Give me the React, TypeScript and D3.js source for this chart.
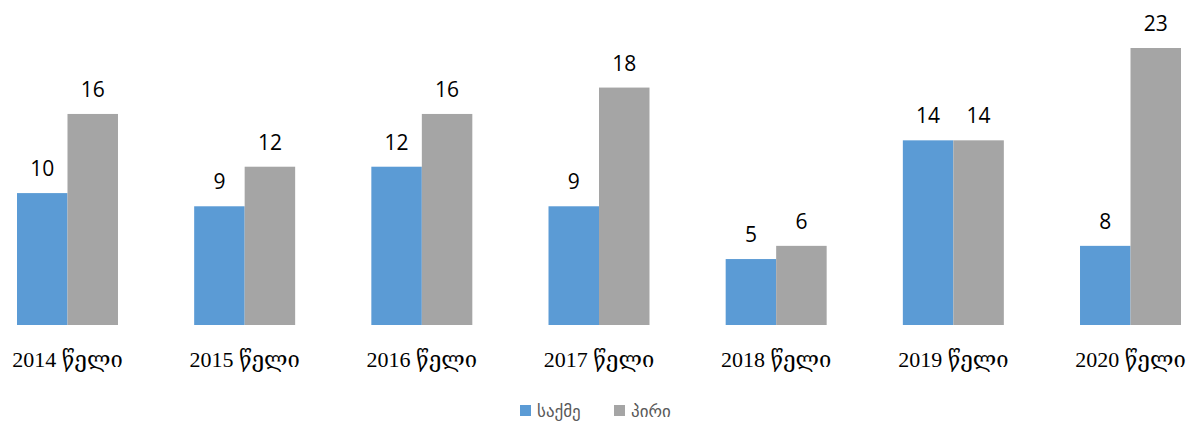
import * as d3 from 'd3'
import React, { useRef, useEffect } from 'react'

const years = ['2014', '2015', '2016', '2017', '2018', '2019', '2020']
const yearSuffix = 'წელი'
// bar heights as drawn in the picture (the 2020 bars are drawn shorter than their labels)
const cases = [10, 9, 12, 9, 5, 14, 6]
const persons = [16, 12, 16, 18, 6, 14, 21]
// labels as printed above the bars
const caseLabels = ['10', '9', '12', '9', '5', '14', '8']
const personLabels = ['16', '12', '16', '18', '6', '14', '23']
const seriesNames = ['საქმე', 'პირი']
const seriesColors = ['#5B9BD5', '#A5A5A5']

const App = () => {
  const ref = useRef<SVGSVGElement | null>(null)

  useEffect(() => {
    const svg = d3.select(ref.current)
    svg.selectAll('*').remove()

    const baseline = 325

    const y = d3.scaleLinear().domain([0, 21]).range([baseline, 48])
    const x0 = d3.scaleBand().domain(years).range([17, 1181]).paddingInner(0.43).paddingOuter(0)
    const x1 = d3.scaleBand().domain(['0', '1']).range([0, x0.bandwidth()])

    const series = [cases, persons]
    const labels = [caseLabels, personLabels]

    series.forEach((vals, s) => {
      const g = svg.append('g')
      g.selectAll('rect')
        .data(vals)
        .enter().append('rect')
        .attr('x', (d, i) => x0(years[i])! + x1(String(s))!)
        .attr('y', d => y(d))
        .attr('width', x1.bandwidth())
        .attr('height', d => baseline - y(d))
        .attr('fill', seriesColors[s])

      g.selectAll('text')
        .data(vals)
        .enter().append('text')
        .attr('x', (d, i) => x0(years[i])! + x1(String(s))! + x1.bandwidth() / 2)
        .attr('y', d => y(d) - 17)
        .attr('text-anchor', 'middle')
        .style('font-family', '"Open Sans", sans-serif')
        .style('font-size', '21px')
        .attr('fill', '#000')
        .text((d, i) => labels[s][i])
    })

    // category labels
    svg.append('g').selectAll('text')
      .data(years)
      .enter().append('text')
      .attr('x', d => x0(d)! + x0.bandwidth() / 2)
      .attr('y', 367)
      .attr('text-anchor', 'middle')
      .style('font-family', '"Liberation Serif", "DejaVu Serif", serif')
      .style('font-size', '22px')
      .attr('fill', '#000')
      .text(d => `${d} ${yearSuffix}`)

    // legend
    const legendX = [520, 614]
    seriesNames.forEach((name, i) => {
      svg.append('rect')
        .attr('x', legendX[i])
        .attr('y', 405)
        .attr('width', 11)
        .attr('height', 11)
        .attr('fill', seriesColors[i])
      svg.append('text')
        .attr('x', legendX[i] + 17)
        .attr('y', 417)
        .style('font-family', '"DejaVu Sans", sans-serif')
        .style('font-size', '17px')
        .attr('fill', '#595959')
        .text(name)
    })
  }, [])

  return (
    <svg ref={ref} width={1190} height={423} style={{ position: 'absolute', left: 0, top: 0 }} />
  )
}

export default App
